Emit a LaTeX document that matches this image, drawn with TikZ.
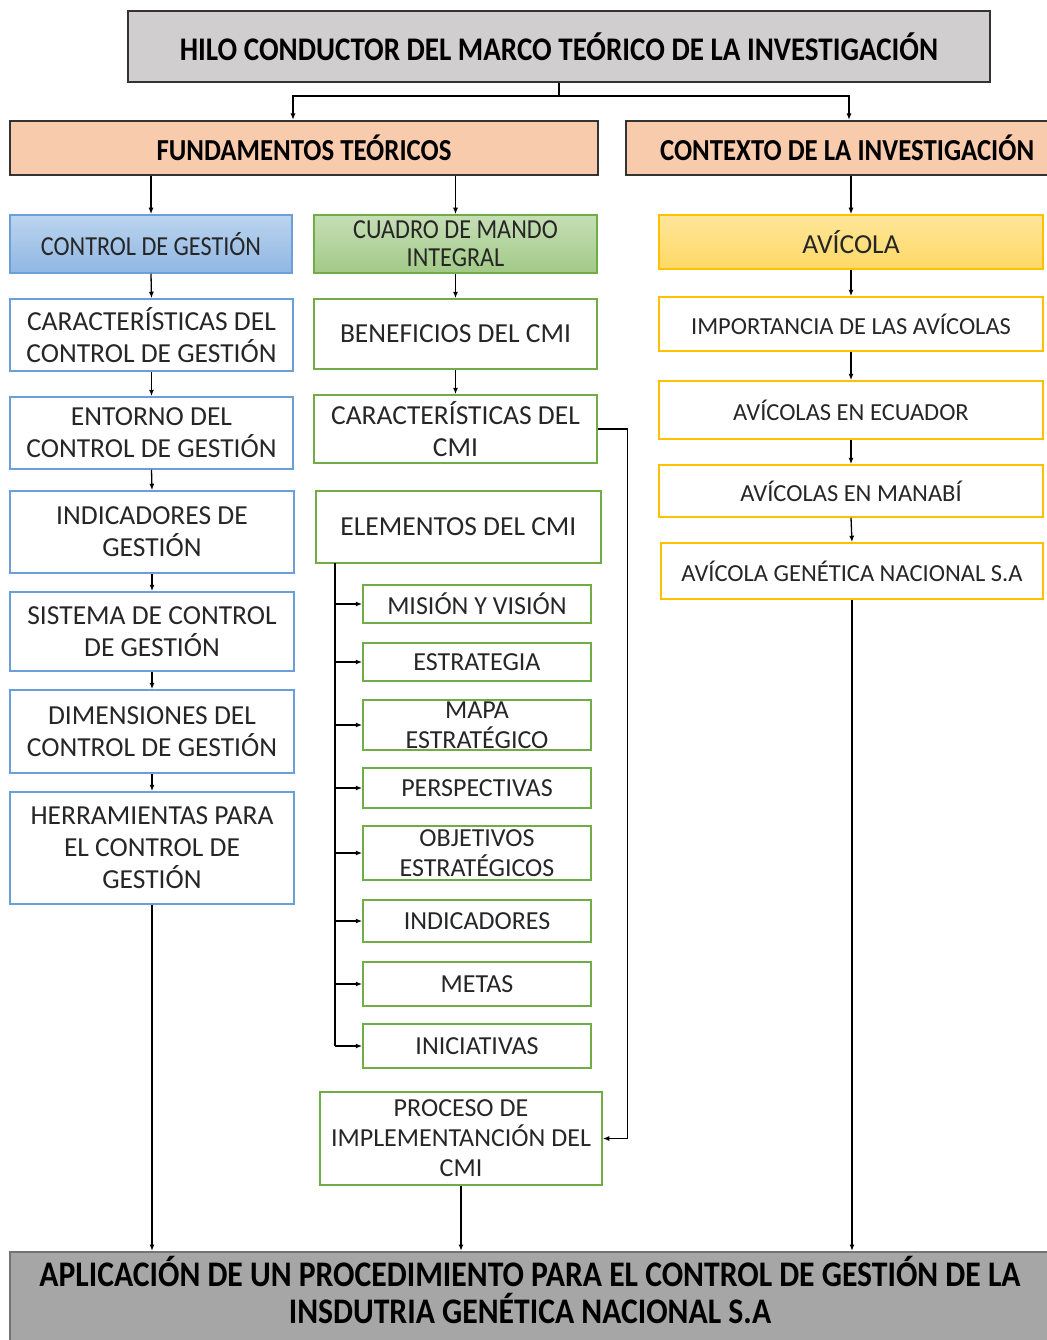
\documentclass[tikz,border=0pt]{standalone}
\usepackage{fontspec}
\setmainfont{Carlito}
\newfontfamily\condfont{Carlito}[FakeStretch=0.88]
\usetikzlibrary{arrows.meta}

\definecolor{grisclaro}{HTML}{D0CECE}
\definecolor{grisosc}{HTML}{A6A6A6}
\definecolor{salmon}{HTML}{F8CBAD}
\definecolor{azulb}{HTML}{6A9FDA}
\definecolor{verdeb}{HTML}{70AD47}
\definecolor{amarb}{HTML}{FFC000}
\definecolor{textog}{HTML}{262626}

\begin{document}
\begin{tikzpicture}[x=1pt,y=-1pt,
    tam/.style 2 args={minimum width=#1pt,minimum height=#2pt},
    caja/.style={draw,rectangle,inner sep=0pt,align=center,text=textog,line width=1.5pt,
      font=\fontsize{27.5}{32}\selectfont},
    cabeza/.style={caja,draw=black!80,line width=2pt,text=black,font=\condfont\bfseries\fontsize{33}{37}\selectfont},
    azul/.style={caja,draw=azulb},
    verde/.style={caja,draw=verdeb},
    amar/.style={caja,draw=amarb,font=\fontsize{24.5}{30}\selectfont},
    sub/.style={verde,font=\fontsize{26}{30}\selectfont},
    flecha/.style={line width=1.3pt,-{Latex[length=6.5pt,width=5pt]}}
  ]
  \useasboundingbox (0,0) rectangle (1046,1340);

  % encabezados
  \node[cabeza,fill=grisclaro,tam={862}{71}] (titulo) at (559,46.5) {HILO CONDUCTOR DEL MARCO TEÓRICO DE LA INVESTIGACIÓN};
  \node[cabeza,fill=salmon,tam={588}{54},font=\condfont\bfseries\fontsize{30.5}{34}\selectfont] (fund) at (304,148) {FUNDAMENTOS TEÓRICOS};
  \node[cabeza,fill=salmon,tam={424}{54},font=\condfont\bfseries\fontsize{30.5}{34}\selectfont] (contexto) at (838,148) {\makebox[356pt][l]{CONTEXTO DE LA INVESTIGACIÓN}};

  \node[azul,top color=azulb!45,bottom color=azulb!75,tam={282}{58},font=\condfont\fontsize{27.5}{30}\selectfont] (cg) at (151,244) {CONTROL DE GESTIÓN};
  \node[verde,top color=verdeb!40,bottom color=verdeb!65,tam={283}{58},font=\condfont\fontsize{27.5}{28}\selectfont] (cmi) at (455.5,244) {CUADRO DE MANDO\\INTEGRAL};
  \node[amar,top color=amarb!40,bottom color=amarb!60,tam={384}{54},font=\fontsize{27.5}{30}\selectfont] (avicola) at (851,242) {AVÍCOLA};

  % columna izquierda
  \node[azul,tam={283}{72}] (carcg) at (151.5,335) {CARACTERÍSTICAS DEL\\CONTROL DE GESTIÓN};
  \node[azul,tam={283}{72}] (entorno) at (151.5,433) {ENTORNO DEL\\CONTROL DE GESTIÓN};
  \node[azul,tam={284}{82}] (indic) at (152,532) {INDICADORES DE\\GESTIÓN};
  \node[azul,tam={284}{79}] (sistema) at (152,631.5) {SISTEMA DE CONTROL\\DE GESTIÓN};
  \node[azul,tam={284}{83}] (dimens) at (152,731.5) {DIMENSIONES DEL\\CONTROL DE GESTIÓN};
  \node[azul,tam={284}{112}] (herram) at (152,848) {HERRAMIENTAS PARA\\EL CONTROL DE\\GESTIÓN};

  % columna central
  \node[verde,tam={283}{70}] (benef) at (455.5,334) {BENEFICIOS DEL CMI};
  \node[verde,tam={283}{68}] (carcmi) at (455.5,429) {CARACTERÍSTICAS DEL\\CMI};
  \node[verde,tam={285}{72}] (elem) at (458.5,527) {ELEMENTOS DEL CMI};
  \node[sub,tam={228}{38}] (mision) at (477,604) {MISIÓN Y VISIÓN};
  \node[sub,tam={228}{38}] (estrat) at (477,662) {ESTRATEGIA};
  \node[sub,tam={228}{50}] (mapa) at (477,725) {MAPA\\ESTRATÉGICO};
  \node[sub,tam={228}{40}] (persp) at (477,788) {PERSPECTIVAS};
  \node[sub,tam={228}{54}] (objet) at (477,853) {OBJETIVOS\\ESTRATÉGICOS};
  \node[sub,tam={228}{42}] (indcmi) at (477,921) {INDICADORES};
  \node[sub,tam={228}{44}] (metas) at (477,984) {METAS};
  \node[sub,tam={228}{44}] (inic) at (477,1046) {INICIATIVAS};
  \node[verde,tam={282}{93},font=\fontsize{26}{30}\selectfont] (proceso) at (461,1138.5) {PROCESO DE\\IMPLEMENTANCIÓN DEL\\CMI};

  % columna derecha
  \node[amar,tam={384}{54}] (imp) at (851,324) {IMPORTANCIA DE LAS AVÍCOLAS};
  \node[amar,tam={384}{58}] (ecu) at (851,410) {AVÍCOLAS EN ECUADOR};
  \node[amar,tam={384}{52}] (man) at (851,491) {AVÍCOLAS EN MANABÍ};
  \node[amar,tam={382}{56}] (agn) at (852,571) {AVÍCOLA GENÉTICA NACIONAL S.A};

  % cierre
  \node[cabeza,fill=grisosc,tam={1040}{93},draw=black!55,text depth=17pt,font=\condfont\bfseries\fontsize{36}{37}\selectfont] (final) at (530,1298.5)
    {APLICACIÓN DE UN PROCEDIMIENTO PARA EL CONTROL DE GESTIÓN DE LA\\INSDUTRIA GENÉTICA NACIONAL S.A};

  % conectores
  \draw[line width=1.3pt] (titulo.south) -- ++(0,13) coordinate (rama);
  \draw[flecha] (rama) -| ([xshift=-11pt]fund.north);
  \draw[flecha] (rama) -| ([xshift=11pt]contexto.north);
  \draw[flecha] (cg.north |- fund.south) -- (cg.north);
  \draw[flecha] (cmi.north |- fund.south) -- (cmi.north);
  \draw[flecha] (avicola.north |- contexto.south) -- (avicola.north);

  \foreach \a/\b in {cg/carcg,carcg/entorno,entorno/indic,indic/sistema,sistema/dimens,dimens/herram,
                     cmi/benef,benef/carcmi,avicola/imp,imp/ecu,ecu/man,man/agn}
    \draw[flecha] (\a.south) -- (\b.north);

  \coordinate (tronco) at (335,563);
  \draw[line width=1.3pt] (tronco) -- (tronco |- inic.west);
  \foreach \s in {mision,estrat,mapa,persp,objet,indcmi,metas,inic}
    \draw[flecha] (tronco |- \s.west) -- (\s.west);

  \draw[flecha] (carcmi.east) -- ++(30,0) |- (proceso.east);

  \foreach \a in {herram,proceso,agn}
    \draw[flecha] (\a.south) -- (\a.south |- final.north);
\end{tikzpicture}
\end{document}
